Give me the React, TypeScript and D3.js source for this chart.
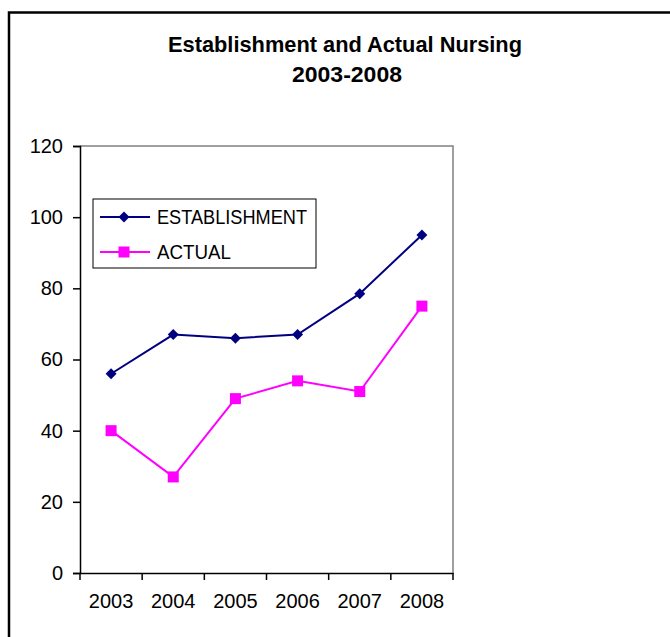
import React, { useEffect, useRef } from "react";
import * as d3 from "d3";

const years = ["2003", "2004", "2005", "2006", "2007", "2008"];
const establishment = [56, 67, 66, 67, 78.5, 95];
const actual = [40, 27, 49, 54, 51, 75];
const yTicks = [0, 20, 40, 60, 80, 100, 120];

const width = 670;
const height = 637;

const App = () => {
  const ref = useRef<SVGSVGElement>(null);

  useEffect(() => {
    const svg = d3.select(ref.current);
    svg.selectAll("*").remove();
    const font = "Liberation Sans, Arial, sans-serif";

    // outer chart border (only top and left visible)
    svg
      .append("path")
      .attr("d", "M9,680 V12.5 H700")
      .attr("fill", "none")
      .attr("stroke", "#000")
      .attr("stroke-width", 2.5);

    // title
    const title = svg
      .append("g")
      .attr("font-family", font)
      .attr("font-weight", "bold")
      .attr("font-size", 22)
      .attr("fill", "#000");
    title
      .append("text")
      .attr("x", 168)
      .attr("y", 52)
      .attr("textLength", 354)
      .attr("lengthAdjust", "spacingAndGlyphs")
      .text("Establishment and Actual Nursing");
    title
      .append("text")
      .attr("x", 292)
      .attr("y", 82)
      .attr("textLength", 110)
      .attr("lengthAdjust", "spacingAndGlyphs")
      .text("2003-2008");

    const left = 80;
    const right = 453;
    const top = 146;
    const bottom = 573;

    const x = d3.scaleBand().domain(years).range([left, right]);
    const y = d3.scaleLinear().domain([0, 120]).range([bottom, top]);

    // plot area border (gray top/right)
    svg
      .append("path")
      .attr("d", `M${left},${top} H${right} V${bottom}`)
      .attr("fill", "none")
      .attr("stroke", "#808080")
      .attr("stroke-width", 1.5);

    const yAxis = svg
      .append("g")
      .attr("transform", `translate(${left},0)`)
      .call(d3.axisLeft(y).tickValues(yTicks).tickSize(7).tickPadding(10));
    yAxis.select(".domain").attr("stroke", "#000").attr("stroke-width", 1.5);
    yAxis.selectAll(".tick line").attr("stroke", "#000").attr("stroke-width", 1.5);
    yAxis.selectAll(".tick text").attr("font-family", font).attr("font-size", 20).attr("fill", "#000");

    const xAxis = svg
      .append("g")
      .attr("transform", `translate(0,${bottom})`)
      .call(d3.axisBottom(x).tickSize(0).tickPadding(21));
    xAxis.select(".domain").attr("stroke", "#000").attr("stroke-width", 1.5);
    xAxis.selectAll(".tick text").attr("font-family", font).attr("font-size", 20).attr("fill", "#000");

    // x tick marks at band boundaries
    const bounds = years.map((d) => x(d) as number).concat([right]);
    svg
      .append("g")
      .selectAll("line")
      .data(bounds)
      .join("line")
      .attr("x1", (d) => d)
      .attr("x2", (d) => d)
      .attr("y1", bottom)
      .attr("y2", bottom + 7)
      .attr("stroke", "#000")
      .attr("stroke-width", 1.5);

    const cx = (i: number) => (x(years[i]) as number) + x.bandwidth() / 2;
    const line = d3
      .line<number>()
      .x((_, i) => cx(i))
      .y((d) => y(d));

    svg.append("path").datum(establishment).attr("d", line).attr("fill", "none").attr("stroke", "#000080").attr("stroke-width", 2);
    svg.append("path").datum(actual).attr("d", line).attr("fill", "none").attr("stroke", "#FF00FF").attr("stroke-width", 2);

    const diamond = d3.symbol().type(d3.symbolSquare).size(60);
    svg
      .append("g")
      .selectAll("path")
      .data(establishment)
      .join("path")
      .attr("d", diamond)
      .attr("transform", (d, i) => `translate(${cx(i)},${y(d)}) rotate(45)`)
      .attr("fill", "#000080");

    svg
      .append("g")
      .selectAll("rect")
      .data(actual)
      .join("rect")
      .attr("x", (_, i) => cx(i) - 5.5)
      .attr("y", (d) => y(d) - 5.5)
      .attr("width", 11)
      .attr("height", 11)
      .attr("fill", "#FF00FF");

    // legend
    const lg = svg.append("g");
    lg.append("rect")
      .attr("x", 93)
      .attr("y", 199)
      .attr("width", 223)
      .attr("height", 69)
      .attr("fill", "#fff")
      .attr("stroke", "#000")
      .attr("stroke-width", 1);
    const items = [
      { name: "ESTABLISHMENT", color: "#000080", shape: "diamond", len: 150 },
      { name: "ACTUAL", color: "#FF00FF", shape: "square", len: 74 },
    ];
    items.forEach((it, i) => {
      const ly = 217 + i * 35;
      lg.append("line").attr("x1", 100).attr("x2", 150).attr("y1", ly).attr("y2", ly).attr("stroke", it.color).attr("stroke-width", 2);
      if (it.shape === "diamond") {
        lg.append("path").attr("d", diamond).attr("transform", `translate(124,${ly}) rotate(45)`).attr("fill", it.color);
      } else {
        lg.append("rect").attr("x", 118.5).attr("y", ly - 5.5).attr("width", 11).attr("height", 11).attr("fill", it.color);
      }
      lg.append("text")
        .attr("x", 157)
        .attr("y", ly + 6.5)
        .attr("font-family", font)
        .attr("font-size", 20)
        .attr("textLength", it.len)
        .attr("lengthAdjust", "spacingAndGlyphs")
        .attr("fill", "#000")
        .text(it.name);
    });
  }, []);

  return (
    <svg
      ref={ref}
      width={width}
      height={height}
      style={{ position: "absolute", left: 0, top: 0, background: "#fff" }}
    />
  );
};

export default App;
